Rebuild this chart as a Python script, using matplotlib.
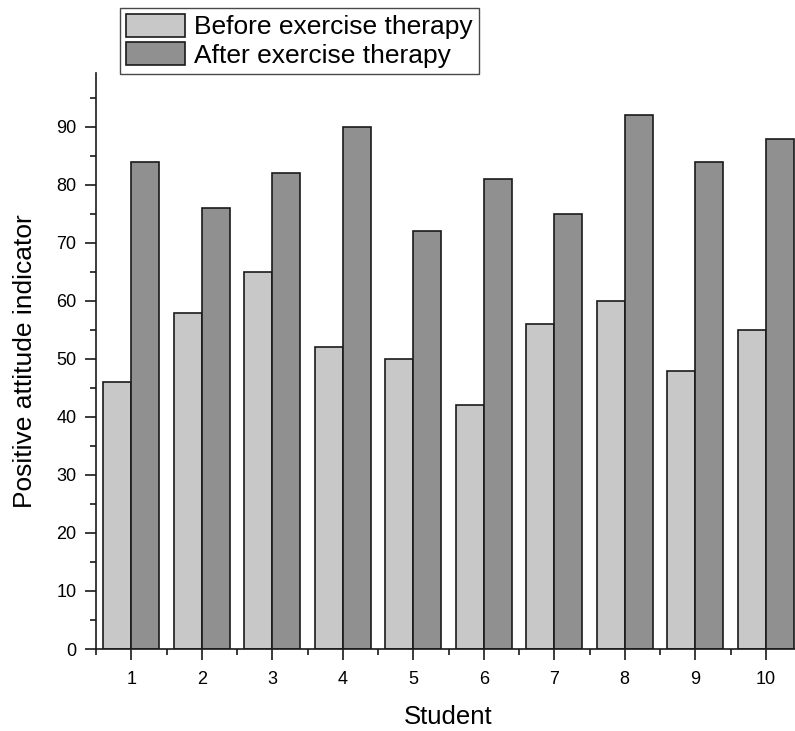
import matplotlib
matplotlib.use("Agg")
import matplotlib.pyplot as plt
import numpy as np
from matplotlib.ticker import MultipleLocator, FixedLocator

plt.rcParams['font.family'] = ['Liberation Sans', 'DejaVu Sans']

students = [1, 2, 3, 4, 5, 6, 7, 8, 9, 10]
before = [46, 58, 65, 52, 50, 42, 56, 60, 48, 55]
after = [84, 76, 82, 90, 72, 81, 75, 92, 84, 88]
labels = ["Before exercise therapy", "After exercise therapy"]

W, H = 795, 731
fig = plt.figure(figsize=(W / 100, H / 100), dpi=100)
left_px, right_px = 96, 801
top_px, bottom_px = 73, 649
ax = fig.add_axes([left_px / W, 1 - bottom_px / H, (right_px - left_px) / W, (bottom_px - top_px) / H])

x = np.array(students, dtype=float)
bw = 0.4
b1 = ax.bar(x - bw / 2, before, width=bw, color='#c8c8c8', edgecolor='#1a1a1a', linewidth=1.2, label=labels[0])
b2 = ax.bar(x + bw / 2, after, width=bw, color='#909090', edgecolor='#1a1a1a', linewidth=1.2, label=labels[1])

ax.set_xlim(0.5, 10.5)
ax.set_ylim(0, 99.3)

for s in ['top', 'right']:
    ax.spines[s].set_visible(False)
for s in ['left', 'bottom']:
    ax.spines[s].set_linewidth(1.2)
    ax.spines[s].set_color('#1a1a1a')

ax.set_xticks(students)
ax.set_xticklabels([str(s) for s in students])
ax.xaxis.set_minor_locator(FixedLocator([s + 0.5 for s in [0] + students[:-1]]))
ax.yaxis.set_major_locator(MultipleLocator(10))
ax.yaxis.set_minor_locator(MultipleLocator(5))
ax.set_yticks(range(0, 100, 10))

ax.tick_params(axis='both', which='major', direction='out', length=8, width=1.2, labelsize=13, color='#1a1a1a', pad=6)
ax.tick_params(axis='both', which='minor', direction='out', length=4, width=1.2, color='#1a1a1a')
ax.tick_params(axis='x', which='major', pad=8)

ax.set_xlabel("Student", fontsize=18.5, labelpad=12)
ax.set_ylabel("Positive attitude indicator", fontsize=19, labelpad=14)

leg = fig.legend(handles=[b1, b2], labels=labels, loc='upper left',
                 bbox_to_anchor=(120 / W, 1 - 8 / H), bbox_transform=fig.transFigure,
                 fontsize=19, frameon=True, fancybox=False, shadow=False,
                 handlelength=2.25, handleheight=0.95, handletextpad=0.35,
                 borderpad=0.22, labelspacing=0.12, borderaxespad=0)
leg.get_frame().set_edgecolor('#1a1a1a')
leg.get_frame().set_linewidth(1.0)

fig.savefig("out.png", dpi=100)
